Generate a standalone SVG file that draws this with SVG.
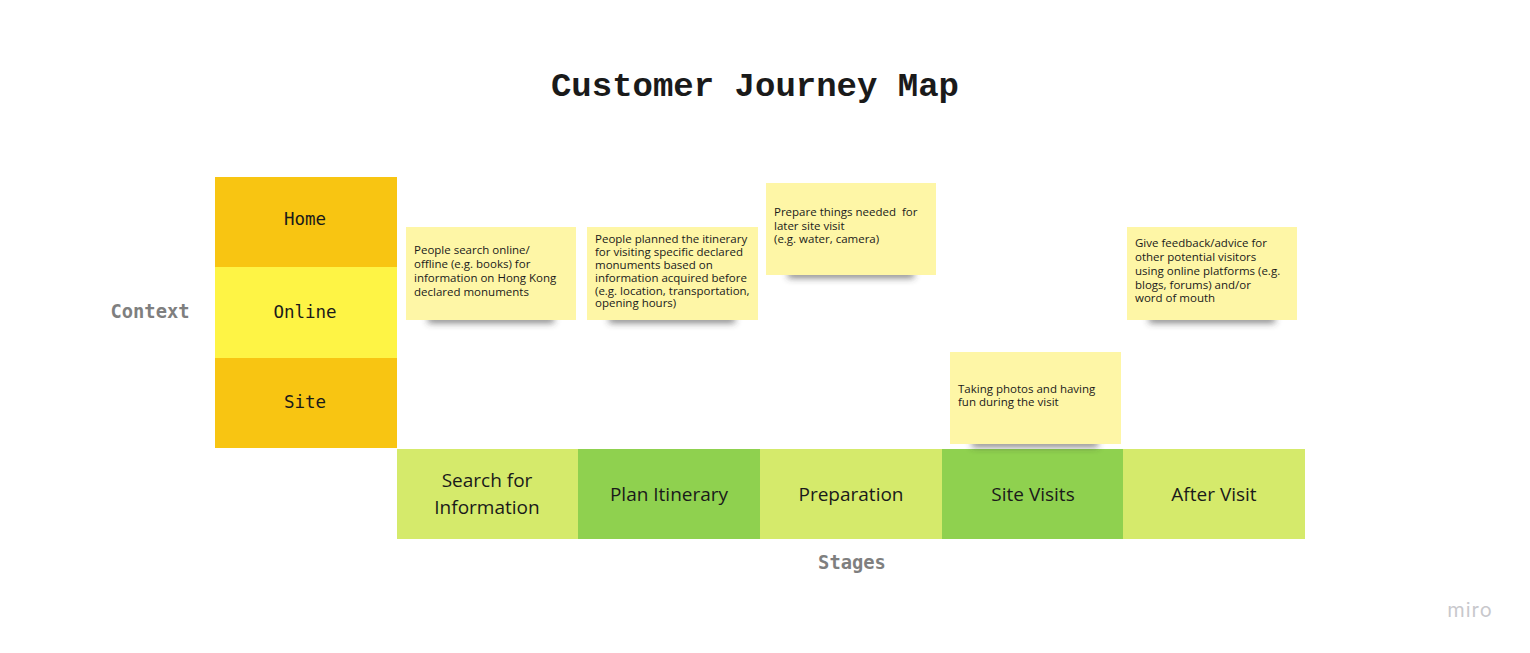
<svg xmlns="http://www.w3.org/2000/svg" width="1530" height="653" viewBox="0 0 1530 653">
<style>
.title{font-family:"Liberation Mono","DejaVu Sans Mono",monospace;font-weight:bold;font-size:34px;fill:#1a1a1a}
.axis{font-family:"DejaVu Sans Mono","Liberation Mono",monospace;font-weight:bold;font-size:18.8px;fill:#7f7f7f}
.ctx{font-family:"DejaVu Sans Mono","Liberation Mono",monospace;font-size:17.5px;fill:#1a1a1a}
.stage{font-family:"Open Sans","Noto Sans",sans-serif;font-size:19px;fill:#1a1a1a}
.note{font-family:"Open Sans","Noto Sans",sans-serif;font-size:11.5px;fill:#1a1a1a;white-space:pre}
.sticky{fill:#FEF6A6}
.shadow{fill:#333;opacity:0.6;filter:url(#blur)}
.lg{fill:#D5EA6B}
.dg{fill:#8FD14F}
</style>
<defs>
<filter id="blur" x="-20%" y="-200%" width="140%" height="500%"><feGaussianBlur stdDeviation="3.5"/></filter>
</defs>
<rect width="1530" height="653" fill="#fff"/>
<text class="title" x="755" y="96" text-anchor="middle">Customer Journey Map</text>
<text class="axis" x="150" y="318" text-anchor="middle">Context</text>
<text class="axis" x="852" y="569" text-anchor="middle">Stages</text>

<g id="ctx-home"><rect x="215" y="177" width="182" height="90" fill="#F8C512"/><text class="ctx" x="305" y="225" text-anchor="middle">Home</text></g>
<g id="ctx-online"><rect x="215" y="267" width="182" height="91" fill="#FEF445"/><text class="ctx" x="305" y="318" text-anchor="middle">Online</text></g>
<g id="ctx-site"><rect x="215" y="358" width="182" height="90" fill="#F8C512"/><text class="ctx" x="305" y="408" text-anchor="middle">Site</text></g>

<g id="stage-search"><rect class="lg" x="397" y="449" width="182" height="90"/><text class="stage" x="487" y="487" text-anchor="middle">Search for</text><text class="stage" x="487" y="514" text-anchor="middle">Information</text></g>
<g id="stage-plan"><rect class="dg" x="578" y="449" width="182" height="90"/><text class="stage" x="669" y="501" text-anchor="middle">Plan Itinerary</text></g>
<g id="stage-prep"><rect class="lg" x="760" y="449" width="182" height="90"/><text class="stage" x="851" y="501" text-anchor="middle">Preparation</text></g>
<g id="stage-site"><rect class="dg" x="942" y="449" width="182" height="90"/><text class="stage" x="1033" y="501" text-anchor="middle">Site Visits</text></g>
<g id="stage-after"><rect class="lg" x="1123" y="449" width="182" height="90"/><text class="stage" x="1214" y="501" text-anchor="middle">After Visit</text></g>

<g id="note-search"><rect class="shadow" x="428" y="315" width="126" height="8"/><rect class="sticky" x="406" y="227" width="170" height="93"/>
<text class="note" x="414" y="254">People search online/</text><text class="note" x="414" y="268">offline (e.g. books) for</text><text class="note" x="414" y="282">information on Hong Kong</text><text class="note" x="414" y="296">declared monuments</text></g>

<g id="note-plan"><rect class="shadow" x="609" y="315" width="126" height="8"/><rect class="sticky" x="587" y="227" width="171" height="93"/>
<text class="note" x="595" y="243">People planned the itinerary</text><text class="note" x="595" y="256">for visiting specific declared</text><text class="note" x="595" y="269">monuments based on</text><text class="note" x="595" y="282">information acquired before</text><text class="note" x="595" y="295">(e.g. location, transportation,</text><text class="note" x="595" y="307">opening hours)</text></g>

<g id="note-prep"><rect class="shadow" x="788" y="270" width="126" height="8"/><rect class="sticky" x="766" y="183" width="170" height="92"/>
<text class="note" x="774" y="216">Prepare things needed  for</text><text class="note" x="774" y="230">later site visit</text><text class="note" x="774" y="243">(e.g. water, camera)</text></g>

<g id="note-site"><rect class="shadow" x="972" y="439" width="126" height="8"/><rect class="sticky" x="950" y="352" width="171" height="92"/>
<text class="note" x="958" y="393">Taking photos and having</text><text class="note" x="958" y="406">fun during the visit</text></g>

<g id="note-after"><rect class="shadow" x="1149" y="315" width="126" height="8"/><rect class="sticky" x="1127" y="227" width="170" height="93"/>
<text class="note" x="1135" y="247">Give feedback/advice for</text><text class="note" x="1135" y="261">other potential visitors</text><text class="note" x="1135" y="275">using online platforms (e.g.</text><text class="note" x="1135" y="289">blogs, forums) and/or</text><text class="note" x="1135" y="302">word of mouth</text></g>

<g id="connectors"></g>
<text x="1470" y="617" text-anchor="middle" font-family="Inter,'Noto Sans',sans-serif" font-size="20" font-weight="400" fill="#c8c8cc" letter-spacing="1">miro</text>
</svg>
